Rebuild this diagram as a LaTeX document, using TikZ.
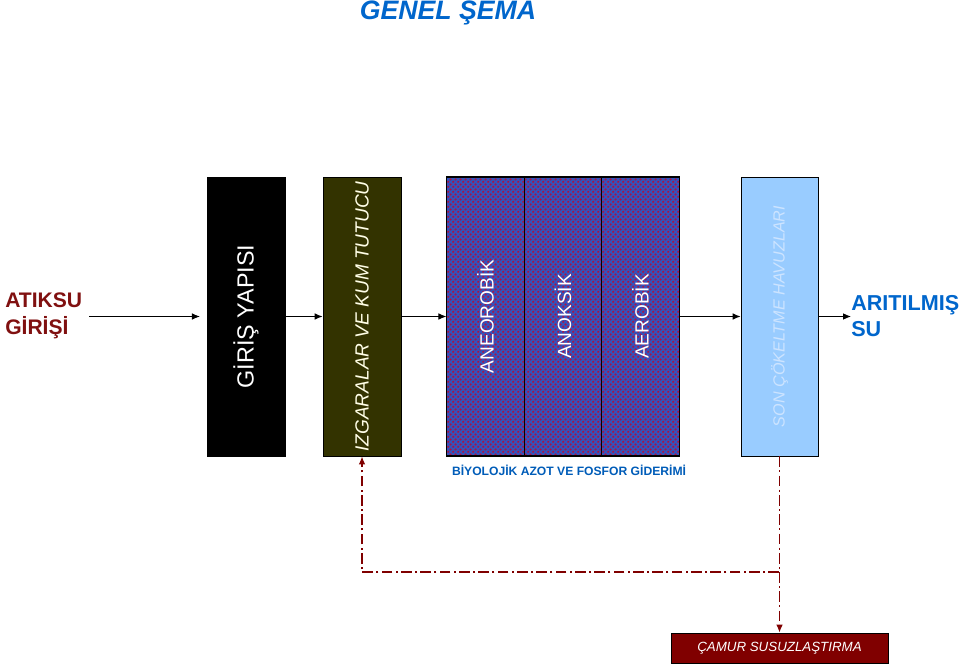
\documentclass[tikz,border=0pt]{standalone}
\usepackage{fontspec}
\setmainfont{Liberation Sans}
\usetikzlibrary{positioning,patterns,arrows.meta}
\definecolor{titleblue}{RGB}{0,102,204}
\definecolor{inred}{RGB}{128,16,16}
\definecolor{olivebox}{RGB}{51,51,0}
\definecolor{bioblue}{RGB}{50,84,190}
\definecolor{biored}{RGB}{170,20,70}
\definecolor{settleblue}{RGB}{153,204,255}
\definecolor{settletext}{RGB}{205,228,255}
\definecolor{sludge}{RGB}{128,0,0}
\pgfdeclarepatternformonly{biodots}{\pgfpointorigin}{\pgfpoint{4pt}{4pt}}{\pgfpoint{4pt}{4pt}}{
  \pgfpathcircle{\pgfpoint{1pt}{1pt}}{1pt}
  \pgfpathcircle{\pgfpoint{3pt}{3pt}}{1pt}
  \pgfusepath{fill}}

\begin{document}
\begin{tikzpicture}[x=0.75pt,y=-0.75pt,>={Latex[length=6pt,width=5pt]},
  unit/.style={draw=black, line width=0.6pt, rotate=90, inner sep=0pt,
    minimum width=209.25pt, minimum height=58.5pt, align=center},
  bio/.style={unit, minimum height=58pt, preaction={fill=bioblue},
    pattern=biodots, pattern color=biored, postaction={draw=black, line width=0.8pt},
    text=white, font=\fontsize{14.3}{16}\selectfont},
  flow/.style={->, line width=0.75pt},
  recycle/.style={->, draw=sludge, line width=1pt,
    dash pattern=on 8pt off 2.5pt on 1.5pt off 2.5pt}
  ]
  \useasboundingbox (0,0) rectangle (959,666);

  \node (title) at (448,20) [anchor=base, text=titleblue, font=\bfseries\itshape\fontsize{20}{24}\selectfont] {GENEL ŞEMA};

  \node (atiksu) at (5,316) [anchor=west, inner sep=0pt, align=left, text=inred,
    font=\bfseries\fontsize{15.8}{20}\selectfont] {ATIKSU\\GİRİŞİ};
  \node (giris) at (246,316.5) [unit, fill=black, text=white,
    font=\fontsize{17.5}{20}\selectfont] {GİRİŞ YAPISI};
  \node (izgara) at (362,316.5) [unit, fill=olivebox, text=white!90!yellow,
    font=\itshape\fontsize{14.3}{16}\selectfont] {IZGARALAR VE KUM TUTUCU};
  \node (aneo) at (485.5,316.5) [bio] {ANEOROBİK};
  \node (anok) at (563,316.5) [bio] {ANOKSİK};
  \node (aero) at (640.5,316.5) [bio] {AEROBİK};
  \node (son) at (779.5,316.5) [unit, minimum height=57.75pt, fill=settleblue,
    text=settletext, font=\itshape\fontsize{12.1}{14}\selectfont] {SON ÇÖKELTME HAVUZLARI};
  \node (aritilmis) at (851,316) [anchor=west, inner sep=0pt, align=left, text=titleblue,
    font=\bfseries\fontsize{16.2}{20}\selectfont] {ARITILMIŞ\\SU};

  \node (biyo) at (569,470) [text=titleblue!90!black,
    font=\bfseries\fontsize{9.1}{11}\selectfont] {BİYOLOJİK AZOT VE FOSFOR GİDERİMİ};

  \node (camur) at (779.5,648) [draw=black, line width=0.6pt, fill=sludge, text=white,
    minimum width=162.75pt, minimum height=22.5pt, inner sep=0pt,
    font=\itshape\fontsize{10}{12}\selectfont] {ÇAMUR SUSUZLAŞTIRMA};

  \draw[flow, shorten <=5pt, shorten >=5pt] (atiksu.east |- giris) -- (giris);
  \draw[flow] (giris) -- (izgara);
  \draw[flow] (izgara) -- (aneo);
  \draw[flow] (aero) -- (son);
  \draw[flow] (son) -- (aritilmis.west |- son);

  \coordinate (split) at (son.west |- 0,572);
  \draw[recycle] (son.west) -- (split) -| (izgara.west);
  \draw[recycle] (split) -- (camur.north);
\end{tikzpicture}
\end{document}
